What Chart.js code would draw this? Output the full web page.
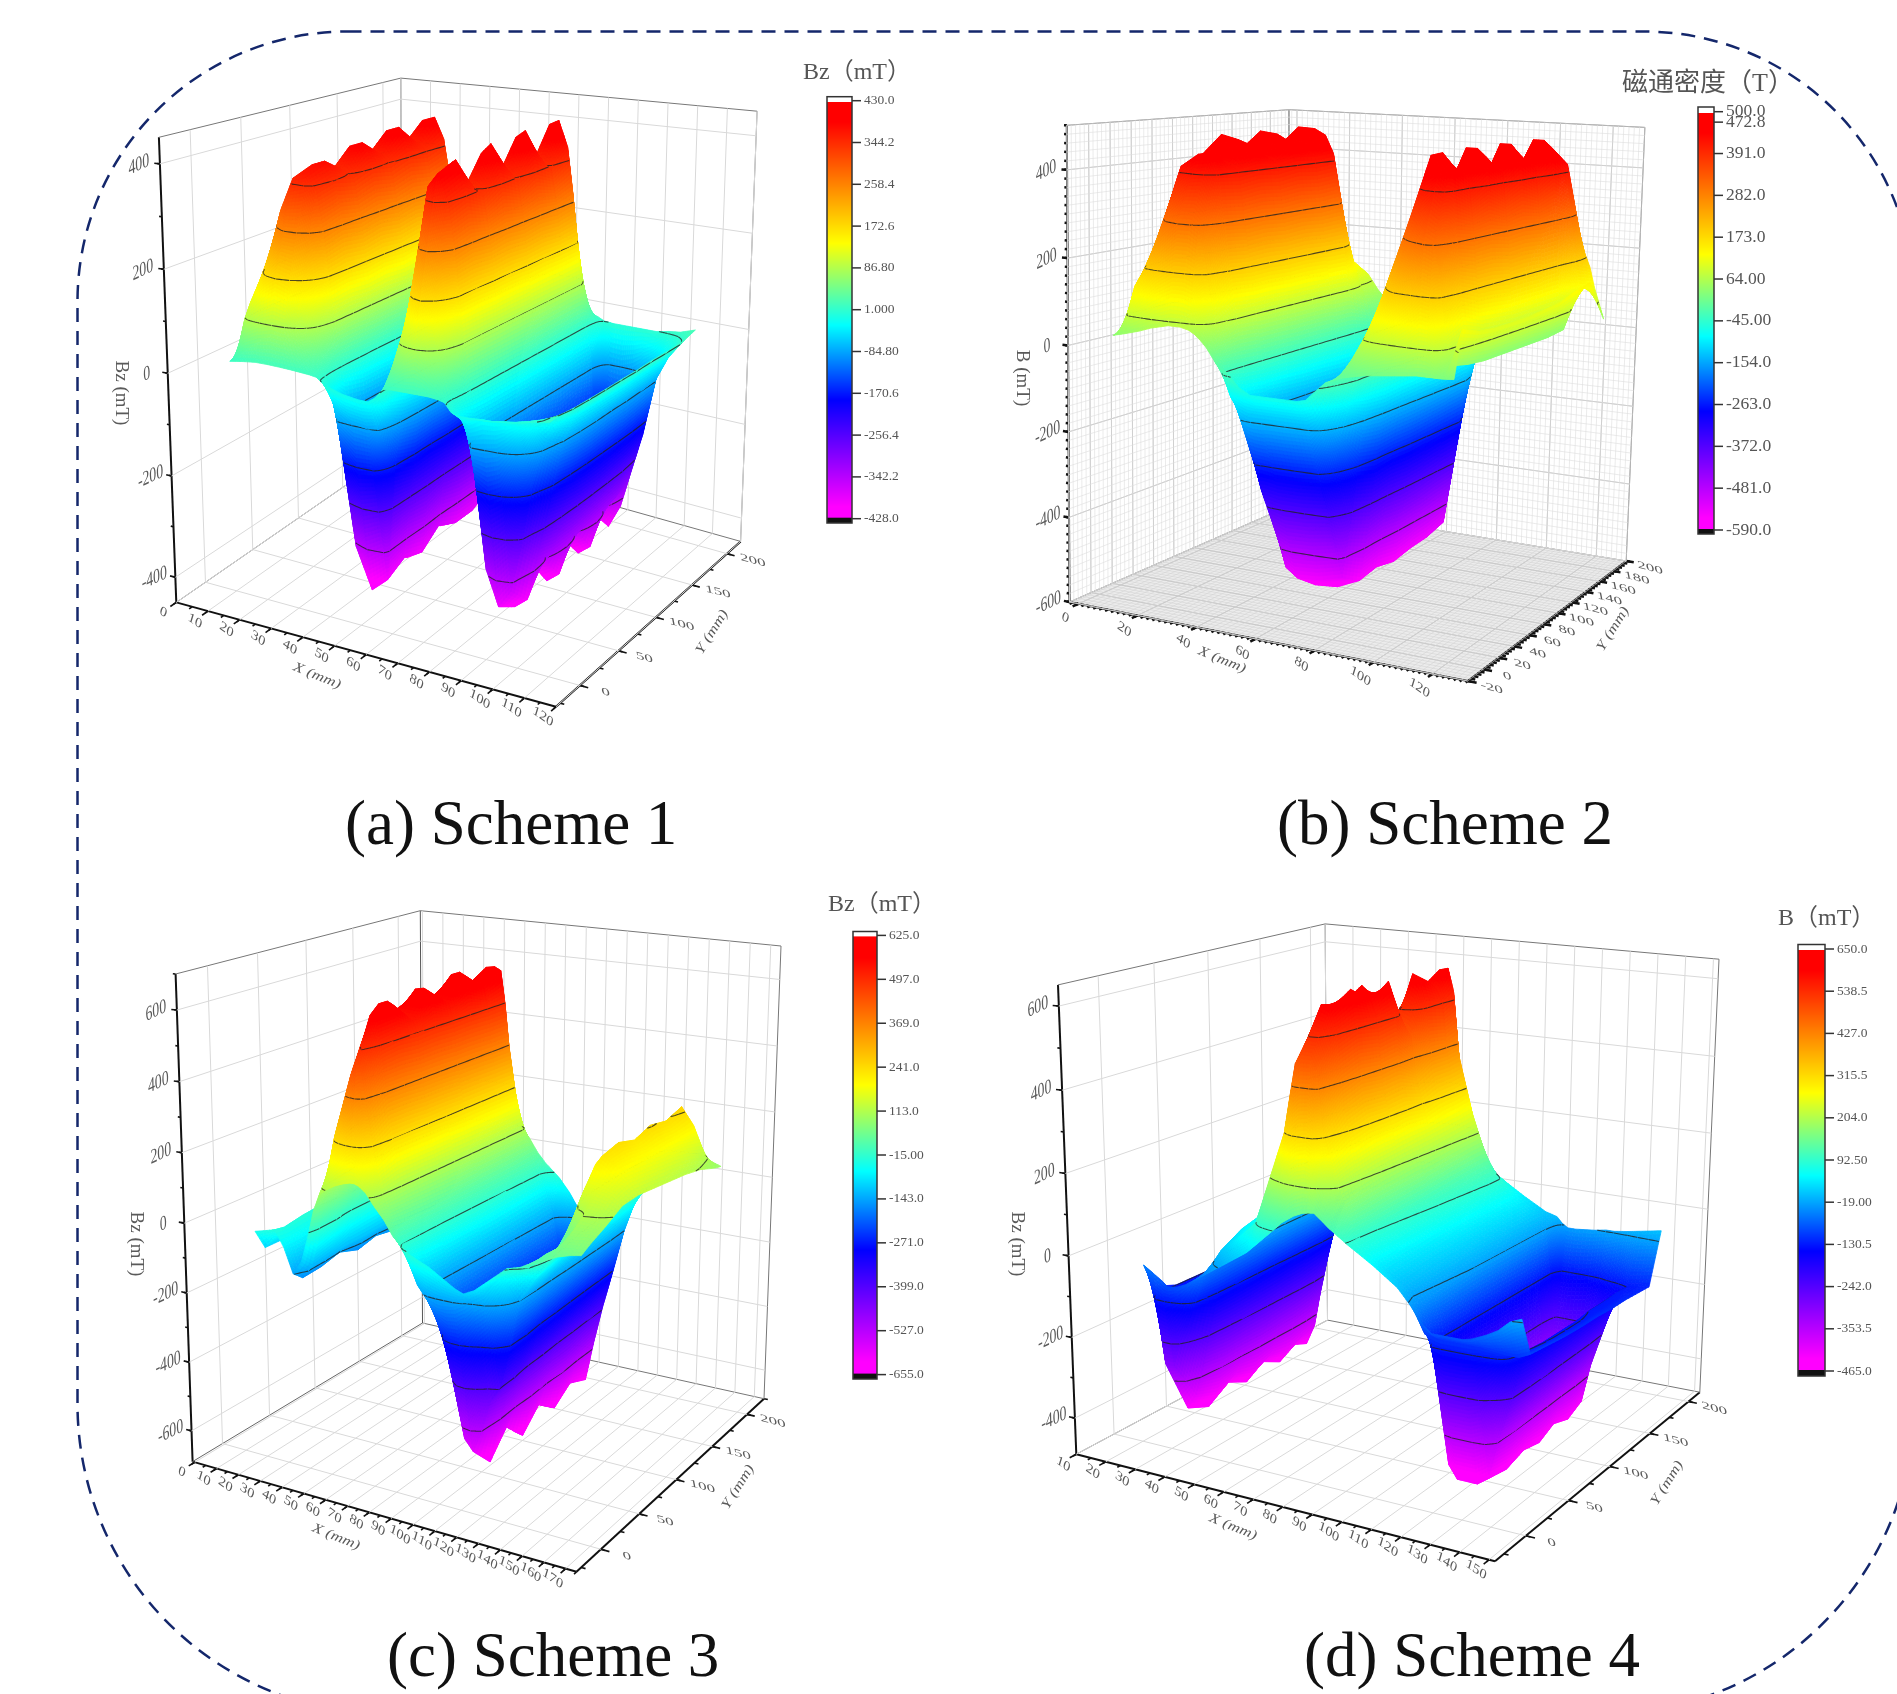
<!DOCTYPE html>
<html>
<head>
<meta charset="utf-8">
<style>
  html, body { margin: 0; padding: 0; background: #fff; }
  canvas { display: block; }
</style>
<script src="https://cdn.jsdelivr.net/npm/chart.js@4/dist/chart.umd.min.js"></script>
</head>
<body>
<canvas id="chart" width="1897" height="1694"></canvas>
<script>
// every row of a z table is one x column, values run along the y list
const ysA = [0, 10, 30, 50, 70, 90, 110, 130, 150, 170, 186];
const xsA = [10, 12, 14, 18, 22, 26, 29, 31, 33, 35, 37, 40, 45, 50, 53, 55, 58, 60, 62, 64, 67, 70, 72, 73.5, 75, 77, 79, 82, 86, 90, 93, 97, 101, 105, 110];
const zA = [
  [8, 12, 24, 26, 26, 26, 26, 26, 26, 26, 18],
  [10, 85, 110, 115, 115, 115, 115, 115, 115, 115, 20],
  [12, 120, 190, 195, 195, 195, 195, 195, 195, 195, 25],
  [15, 150, 290, 305, 290, 310, 295, 310, 295, 310, 30],
  [15, 170, 355, 370, 345, 385, 355, 395, 355, 395, 30],
  [14, 160, 365, 380, 350, 395, 360, 405, 360, 405, 30],
  [13, 120, 335, 345, 335, 350, 340, 355, 345, 360, 28],
  [12, 90, 258, 270, 262, 272, 264, 274, 266, 276, 24],
  [11, 60, 150, 155, 150, 155, 150, 155, 150, 155, 20],
  [10, 30, 50, 50, 48, 48, 46, 46, 45, 45, 15],
  [8, 0, -30, -40, -40, -42, -42, -44, -44, -46, 5],
  [-5, -60, -350, -360, -370, -370, -375, -385, -380, -395, -5],
  [-15, -80, -428, -385, -415, -375, -400, -395, -375, -400, -10],
  [-20, -85, -400, -380, -395, -365, -385, -385, -365, -395, -10],
  [-20, -80, -170, -185, -180, -185, -180, -185, -180, -185, -10],
  [-12, -50, -70, -75, -75, -75, -75, -75, -75, -75, -5],
  [8, 40, 60, 62, 62, 62, 62, 62, 62, 62, 8],
  [10, 80, 170, 175, 175, 175, 175, 175, 175, 175, 12],
  [10, 110, 290, 300, 295, 300, 295, 300, 295, 300, 15],
  [10, 140, 370, 395, 340, 400, 345, 410, 345, 415, 20],
  [10, 170, 395, 410, 345, 420, 355, 425, 350, 425, 22],
  [10, 130, 345, 360, 335, 365, 340, 368, 340, 372, 20],
  [10, 90, 258, 268, 262, 270, 264, 272, 266, 275, 18],
  [9, 60, 170, 172, 170, 172, 170, 172, 170, 172, 15],
  [8, 30, 86, 86, 86, 86, 86, 86, 86, 86, 12],
  [5, -8, 1, 1, 1, 1, 1, 1, 1, 1, 8],
  [-10, -30, -60, -62, -62, -62, -62, -62, -62, -62, 2],
  [-15, -40, -330, -400, -345, -400, -340, -398, -340, -395, 0],
  [-15, -25, -395, -420, -350, -420, -340, -415, -340, -410, 0],
  [-15, -25, -360, -400, -345, -400, -335, -395, -330, -360, 0],
  [-12, -22, -280, -320, -330, -330, -325, -320, -315, -290, 0],
  [-10, -18, -150, -210, -220, -225, -225, -220, -215, -200, 0],
  [-6, -12, -60, -90, -95, -95, -90, -90, -85, -80, 5],
  [0, -5, -25, -35, -35, -35, -35, -30, -30, -30, 8],
  [5, 7, 5, 5, 5, 6, 6, 8, 8, 10, 18]
];

const ysB = [0, 10, 30, 50, 70, 90, 110, 130, 150, 170, 190];
const xsB = [5, 9, 14, 18, 24, 28, 31, 33, 35, 37, 40, 42, 44, 46, 48, 52, 60, 68, 71, 74, 78, 84, 91, 98, 105, 109, 112, 114, 116, 118, 122];
const zB = [
  [18, 22, 26, 28, 28, 28, 28, 28, 28, 26, 20],
  [25, 130, 190, 235, 235, 235, 235, 235, 232, 150, 30],
  [35, 190, 320, 385, 385, 385, 385, 385, 380, 200, 50],
  [45, 240, 405, 425, 470, 430, 470, 430, 472, 230, 80],
  [55, 285, 435, 410, 460, 415, 465, 420, 470, 150, 90],
  [55, 285, 440, 405, 450, 410, 450, 415, 455, 150, 90],
  [50, 270, 400, 395, 405, 400, 410, 405, 410, 130, 80],
  [42, 210, 290, 285, 290, 285, 290, 285, 290, 100, 60],
  [30, 120, 180, 175, 178, 175, 178, 175, 175, 60, 40],
  [15, 50, 75, 72, 72, 70, 70, 68, 66, 30, 25],
  [-15, -55, -70, -75, -75, -78, -78, -80, -80, -82, -20],
  [-25, -100, -150, -160, -170, -175, -180, -185, -190, -190, -60],
  [-35, -120, -280, -290, -300, -300, -305, -305, -305, -300, -100],
  [-50, -125, -330, -480, -480, -480, -475, -475, -470, -460, -150],
  [-65, -130, -330, -530, -570, -560, -570, -555, -560, -540, -200],
  [-80, -130, -335, -550, -590, -570, -585, -565, -565, -545, -200],
  [-80, -130, -335, -545, -585, -565, -580, -565, -560, -540, -200],
  [-80, -130, -330, -530, -560, -550, -560, -550, -545, -530, -190],
  [-75, -120, -260, -400, -420, -410, -415, -410, -400, -395, -150],
  [-55, -90, -170, -230, -240, -235, -235, -230, -225, -220, -90],
  [-30, -40, -70, -60, -60, -55, -50, -50, -45, -40, -10],
  [-15, 20, 50, 60, 65, 65, 65, 68, 68, 70, 40],
  [-5, 100, 200, 200, 202, 205, 205, 208, 210, 210, 130],
  [0, 170, 330, 335, 335, 335, 338, 338, 340, 340, 230],
  [5, 240, 465, 385, 472, 385, 472, 395, 472, 440, 395],
  [8, 290, 472, 395, 472, 395, 472, 405, 472, 425, 300],
  [8, 280, 450, 410, 455, 410, 450, 410, 455, 410, 220],
  [8, 220, 300, 290, 295, 285, 290, 285, 290, 270, 180],
  [8, 100, 130, 110, 105, 100, 100, 100, 100, 170, 150],
  [8, 30, 20, 15, 15, 15, 15, 15, 20, 110, 100],
  [10, 110, 95, 90, 90, 90, 95, 100, 115, 125, 22]
];

const ysC = [0, 10, 30, 50, 70, 90, 110, 130, 150, 170, 178];
const xsC = [17, 26, 30, 34, 38, 41, 44, 47, 50, 54, 58, 61, 63, 65, 68, 72, 76, 80, 87, 92, 96, 100, 104, 108, 112, 117, 122, 126, 132, 138, 142, 146, 149, 155, 161, 166];
const zC = [
  [-40, -100, -100, -95, -90, -85, -80, -75, -70, -60, -30],
  [-25, -30, -20, -15, -12, -10, -10, -10, -10, -10, -5],
  [-70, -70, -65, -60, -55, -50, -50, -50, -50, -50, -20],
  [-140, -165, -160, -145, -165, -150, -160, -145, -150, -140, -50],
  [-100, -130, -120, -115, -115, -110, -110, -105, -105, -100, -30],
  [-30, -60, -40, 60, 90, 90, 90, 90, 90, 85, 10],
  [50, 60, 120, 240, 265, 265, 265, 260, 260, 255, 40],
  [100, 150, 230, 400, 425, 425, 425, 420, 420, 415, 70],
  [115, 250, 400, 555, 540, 560, 545, 565, 550, 550, 100],
  [130, 340, 480, 590, 535, 600, 550, 610, 565, 600, 120],
  [140, 430, 560, 600, 530, 605, 545, 620, 560, 605, 130],
  [145, 470, 590, 590, 530, 595, 545, 610, 560, 595, 130],
  [145, 420, 490, 500, 495, 500, 497, 500, 497, 500, 125],
  [140, 330, 380, 380, 375, 375, 372, 372, 370, 370, 115],
  [125, 210, 240, 240, 238, 238, 236, 236, 235, 235, 105],
  [90, 100, 105, 105, 105, 105, 105, 105, 105, 105, 80],
  [60, 40, 35, 32, 30, 30, 30, 30, 32, 35, 40],
  [20, -15, -18, -20, -20, -20, -18, -15, -12, -10, 10],
  [-20, -120, -150, -150, -148, -145, -145, -142, -140, -135, -30],
  [-35, -160, -300, -320, -320, -320, -315, -315, -310, -310, -70],
  [-45, -170, -440, -480, -470, -480, -470, -475, -465, -470, -110],
  [-60, -170, -560, -630, -575, -645, -590, -640, -595, -625, -150],
  [-75, -165, -590, -655, -590, -650, -595, -640, -600, -625, -160],
  [-90, -150, -527, -545, -530, -535, -520, -525, -510, -500, -140],
  [-100, -130, -440, -450, -440, -435, -420, -415, -400, -390, -120],
  [-85, -110, -390, -380, -350, -340, -320, -300, -285, -270, -100],
  [-60, -70, -265, -260, -230, -215, -195, -180, -165, -145, -70],
  [-40, -50, -143, -140, -125, -115, -105, -90, -80, -70, -40],
  [-10, -30, -85, -75, -55, -40, -25, -15, -5, 5, -10],
  [0, -15, -40, -20, 10, 35, 50, 70, 85, 95, 20],
  [12, 10, 0, 50, 110, 135, 150, 165, 180, 175, 45],
  [18, 30, 25, 120, 200, 210, 200, 215, 220, 210, 70],
  [28, 40, 45, 165, 225, 240, 225, 245, 235, 255, 90],
  [45, 70, 110, 160, 200, 200, 195, 200, 200, 205, 95],
  [55, 75, 105, 150, 170, 165, 160, 155, 145, 120, 95],
  [60, 75, 100, 130, 135, 130, 125, 120, 110, 90, 85]
];

const ysD = [0, 10, 30, 50, 70, 88, 105, 122, 138, 150, 163];
const xsD = [22, 25, 28, 30, 33, 36, 39, 45, 50, 57, 62, 67, 69, 71, 73, 76, 78, 80, 85, 91, 100, 108, 112, 114, 116, 119, 126, 130, 133, 138, 142, 146, 150];
const zD = [
  [-45, -110, -130, -130, -130, -130, -125, -120, -110, -90, -30],
  [-60, -300, -440, -465, -430, -455, -425, -450, -425, -440, -60],
  [-75, -300, -400, -420, -400, -415, -400, -410, -395, -385, -60],
  [-88, -240, -345, -353, -350, -350, -345, -340, -330, -300, -50],
  [-85, -190, -242, -245, -240, -238, -230, -225, -215, -190, -40],
  [-75, -125, -135, -130, -125, -115, -110, -105, -100, -90, -30],
  [-60, -60, -40, -35, -30, -25, -22, -20, -20, -20, -15],
  [-30, 10, 40, 55, 58, 58, 55, 50, 45, 40, 0],
  [-5, 40, 65, 72, 75, 75, 75, 72, 70, 65, 15],
  [30, 92, 100, 105, 105, 105, 105, 105, 105, 100, 40],
  [65, 204, 215, 215, 215, 215, 215, 215, 215, 205, 60],
  [100, 315, 350, 340, 340, 340, 340, 340, 340, 325, 80],
  [115, 400, 470, 450, 450, 450, 450, 445, 445, 430, 95],
  [125, 480, 560, 540, 545, 540, 530, 535, 535, 525, 110],
  [135, 500, 605, 590, 625, 570, 500, 620, 590, 612, 120],
  [145, 500, 595, 630, 590, 625, 490, 600, 570, 618, 125],
  [148, 470, 540, 560, 550, 560, 480, 555, 540, 560, 125],
  [150, 320, 370, 390, 385, 390, 370, 395, 395, 400, 125],
  [120, 204, 215, 225, 230, 235, 240, 245, 250, 255, 110],
  [90, 92, 95, 100, 105, 110, 115, 120, 125, 125, 80],
  [50, 30, 35, 40, 45, 48, 50, 52, 55, 55, 40],
  [10, -5, 0, 5, 8, 10, 10, 12, 12, 14, 8],
  [-22, -35, -30, -25, -20, -20, -20, -20, -20, -20, 0],
  [-40, -100, -130, -130, -130, -130, -130, -130, -130, -130, -15],
  [-60, -100, -430, -450, -430, -445, -425, -440, -420, -280, -25],
  [-80, -105, -460, -465, -435, -460, -430, -455, -425, -280, -25],
  [-80, -105, -460, -465, -440, -455, -430, -450, -425, -270, -20],
  [-80, -105, -440, -450, -435, -445, -425, -440, -420, -250, -15],
  [-75, -105, -350, -353, -350, -345, -340, -335, -325, -200, -15],
  [-60, -110, -242, -245, -240, -235, -230, -225, -215, -165, -10],
  [-45, -112, -130, -135, -135, -135, -130, -130, -128, -130, -5],
  [-21, -112, -118, -122, -125, -125, -125, -125, -125, -125, 0],
  [-10, -100, -105, -110, -112, -112, -115, -115, -118, -120, 5]
];

const barTicksA = ['430.0', '344.2', '258.4', '172.6', '86.80', '1.000', '-84.80', '-170.6', '-256.4', '-342.2', '-428.0'];
const barTicksB = ['500.0', '472.8', '391.0', '282.0', '173.0', '64.00', '-45.00', '-154.0', '-263.0', '-372.0', '-481.0', '-590.0'];
const barTicksC = ['625.0', '497.0', '369.0', '241.0', '113.0', '-15.00', '-143.0', '-271.0', '-399.0', '-527.0', '-655.0'];
const barTicksD = ['650.0', '538.5', '427.0', '315.5', '204.0', '92.50', '-19.00', '-130.5', '-242.0', '-353.5', '-465.0'];

const xTicksA = [0, 10, 20, 30, 40, 50, 60, 70, 80, 90, 100, 110, 120];
const yTicksA = [0, 50, 100, 150, 200];
const zTicksA = [-400, -200, 0, 200, 400];
const xTicksB = [0, 20, 40, 60, 80, 100, 120];
const yTicksB = [-20, 0, 20, 40, 60, 80, 100, 120, 140, 160, 180, 200];
const zTicksB = [-600, -400, -200, 0, 200, 400];
const xTicksC = [0, 10, 20, 30, 40, 50, 60, 70, 80, 90, 100, 110, 120, 130, 140, 150, 160, 170];
const yTicksC = [0, 50, 100, 150, 200];
const zTicksC = [-600, -400, -200, 0, 200, 400, 600];
const xTicksD = [10, 20, 30, 40, 50, 60, 70, 80, 90, 100, 110, 120, 130, 140, 150];
const yTicksD = [0, 50, 100, 150, 200];
const zTicksD = [-400, -200, 0, 200, 400, 600];

// page position of each 3D box, corners in order: front-left, front-right, back-left, back-right
const panels = [
  {
    xs: xsA, ys: ysA, zs: zA, xTicks: xTicksA, yTicks: yTicksA, zTicks: zTicksA, barTicks: barTicksA,
    xRange: [0, 120], yRange: [-30, 220], zRange: [-450, 450], low: -428, high: 430, levelFrom: 1,
    bottom: [[176.3, 602.4], [556, 706.7], [402.2, 446.3], [740.6, 541.4]],
    top: [[158.9, 137.3], [558.3, 177.7], [400.8, 78.1], [757.1, 111.2]],
    zTitle: 'Bz (mT)', xTitleAt: [317, 676], yTitleAt: [712, 632], zTitleAt: [121, 393],
    caption: '(a) Scheme 1', captionAt: [345, 844],
    barTitle: 'Bz（mT）', barTitleAt: [803, 79], barX: [827, 852], barY: [96.7, 523], tickY: [100.7, 518.7], barFont: 13.5, barTitleFont: 24
  },
  {
    xs: xsB, ys: ysB, zs: zB, xTicks: xTicksB, yTicks: yTicksB, zTicks: zTicksB, barTicks: barTicksB,
    xRange: [-3, 132], yRange: [-20, 200], zRange: [-600, 500], low: -590, high: 472.8, levelFrom: 2,
    bottom: [[1069.5, 602], [1467.7, 681], [1289.1, 506], [1626.2, 561]],
    top: [[1066.8, 125.3], [1465.4, 148.4], [1289.1, 109.7], [1644.9, 127.4]],
    dense: true,
    zTitle: 'B (mT)', xTitleAt: [1222, 660], yTitleAt: [1613, 629], zTitleAt: [1022, 378],
    caption: '(b) Scheme 2', captionAt: [1277, 844],
    barTitle: '磁通密度（T）', barTitleAt: [1622, 91], barX: [1698, 1714], barY: [107, 534], tickY: [111.7, 530], barFont: 17.5, barTitleFont: 26
  },
  {
    xs: xsC, ys: ysC, zs: zC, xTicks: xTicksC, yTicks: yTicksC, zTicks: zTicksC, barTicks: barTicksC,
    xRange: [-1, 175], yRange: [-31, 225], zRange: [-690, 700], low: -655, high: 625, levelFrom: 1,
    bottom: [[192.6, 1461.6], [576.5, 1571.8], [422.5, 1323], [764, 1398.7]],
    top: [[175.6, 974], [574.3, 1013], [420.3, 910.7], [781, 946]],
    zTitle: 'Bz (mT)', xTitleAt: [336, 1537], yTitleAt: [738, 1487], zTitleAt: [136, 1244],
    caption: '(c) Scheme 3', captionAt: [387, 1676],
    barTitle: 'Bz（mT）', barTitleAt: [828, 911], barX: [853, 877], barY: [931.5, 1379], tickY: [935.4, 1374.6], barFont: 13.5, barTitleFont: 24
  },
  {
    xs: xsD, ys: ysD, zs: zD, xTicks: xTicksD, yTicks: yTicksD, zTicks: zTicksD, barTicks: barTicksD,
    xRange: [10, 152], yRange: [-35, 215], zRange: [-490, 650], low: -465, high: 650, levelFrom: 1,
    bottom: [[1076.3, 1454.2], [1495, 1561.2], [1327.5, 1320.1], [1699.8, 1392.2]],
    top: [[1058, 984.9], [1497.3, 1024.9], [1325.2, 923.9], [1719, 959.2]],
    zTitle: 'Bz (mT)', xTitleAt: [1233, 1527], yTitleAt: [1667, 1483], zTitleAt: [1017, 1244],
    caption: '(d) Scheme 4', captionAt: [1304, 1676],
    barTitle: 'B（mT）', barTitleAt: [1778, 925], barX: [1798, 1825], barY: [944.5, 1376], tickY: [949, 1371], barFont: 13.5, barTitleFont: 24
  }
];

const rainbowStops = [
  [0, 255, 0, 255], [0.03, 255, 0, 255], [0.285, 0, 0, 255], [0.464, 0, 255, 255],
  [0.66, 255, 255, 0], [0.95, 255, 0, 0], [1, 255, 0, 0]
];

function rainbow(t) {
  t = Math.max(0, Math.min(1, t));
  for (let i = 1; i < rainbowStops.length; i++) {
    const a = rainbowStops[i - 1], b = rainbowStops[i];
    if (t <= b[0]) {
      const f = (t - a[0]) / (b[0] - a[0] || 1);
      return 'rgb(' + Math.round(a[1] + (b[1] - a[1]) * f) + ',' + Math.round(a[2] + (b[2] - a[2]) * f) + ',' + Math.round(a[3] + (b[3] - a[3]) * f) + ')';
    }
  }
  return 'rgb(255,0,0)';
}

// perspective spacing along y and z, x stays even
function warp(t, k) { return t / (t + (1 - t) * k); }

function project(p, x, y, z) {
  const a = (x - p.xRange[0]) / (p.xRange[1] - p.xRange[0]);
  const b = warp((y - p.yRange[0]) / (p.yRange[1] - p.yRange[0]), 0.92);
  const c = warp((z - p.zRange[0]) / (p.zRange[1] - p.zRange[0]), 1.03);
  const onPlane = q => [0, 1].map(n =>
    q[0][n] * (1 - a) * (1 - b) + q[1][n] * a * (1 - b) + q[2][n] * (1 - a) * b + q[3][n] * a * b);
  const lo = onPlane(p.bottom), hi = onPlane(p.top);
  return { x: lo[0] + (hi[0] - lo[0]) * c, y: lo[1] + (hi[1] - lo[1]) * c };
}

function gridDatasets(p) {
  const out = [];
  const [x0, x1] = p.xRange, [y0, y1] = p.yRange, [z0, z1] = p.zRange;
  const line = (from, to, color, width) => out.push({
    data: [project(p, from[0], from[1], from[2]), project(p, to[0], to[1], to[2])],
    showLine: true, pointRadius: 0, borderColor: color, borderWidth: width
  });
  const steps = (lo, hi, step) => {
    const list = [];
    for (let v = Math.ceil(lo / step) * step; v <= hi; v += step) list.push(v);
    return list;
  };
  if (p.dense) {
    steps(x0, x1, 2).forEach(x => { line([x, y1, z0], [x, y1, z1], '#dedede', 0.6); line([x, y0, z0], [x, y1, z0], '#d4d4d4', 0.6); });
    steps(y0, y1, 4).forEach(y => { line([x0, y, z0], [x0, y, z1], '#dedede', 0.6); line([x0, y, z0], [x1, y, z0], '#d4d4d4', 0.6); });
    steps(z0, z1, 20).forEach(z => { line([x0, y0, z], [x0, y1, z], '#dedede', 0.6); line([x0, y1, z], [x1, y1, z], '#dedede', 0.6); });
  }
  const major = p.dense ? '#bdbdbd' : '#d9d9d9';
  p.xTicks.forEach(x => { line([x, y1, z0], [x, y1, z1], major, 1); line([x, y0, z0], [x, y1, z0], major, 1); });
  p.yTicks.forEach(y => { line([x0, y, z0], [x0, y, z1], major, 1); line([x0, y, z0], [x1, y, z0], major, 1); });
  p.zTicks.forEach(z => { line([x0, y0, z], [x0, y1, z], major, 1); line([x0, y1, z], [x1, y1, z], major, 1); });
  // box outline and the three ticked axes
  line([x0, y0, z1], [x0, y1, z1], '#777', 1);
  line([x0, y1, z1], [x1, y1, z1], '#777', 1);
  line([x1, y1, z1], [x1, y1, z0], '#777', 1);
  line([x0, y1, z1], [x0, y1, z0], '#555', 1);
  line([x0, y0, z0], [x0, y1, z0], '#666', 1);
  line([x0, y1, z0], [x1, y1, z0], '#777', 1);
  line([x0, y0, z0], [x0, y0, z1], '#111', 2);
  line([x0, y0, z0], [x1, y0, z0], '#111', 2);
  line([x1, y0, z0], [x1, y1, z0], '#111', 2);
  const tickWidth = p.dense ? 2.5 : 1.6;
  const dx = (x1 - x0) * 0.014, dy = (y1 - y0) * 0.022;
  p.xTicks.forEach(x => line([x, y0, z0], [x, y0 - dy * 1.1, z0], '#111', tickWidth));
  p.yTicks.forEach(y => line([x1, y, z0], [x1 + dx * 1.6, y, z0], '#111', tickWidth));
  p.zTicks.forEach(z => line([x0, y0, z], [x0 - dx, y0, z], '#111', tickWidth));
  const xMinor = p.dense ? 2 : (p.xTicks[1] - p.xTicks[0]) / 2;
  const yMinor = p.dense ? 4 : (p.yTicks[1] - p.yTicks[0]) / 2;
  const zMinor = p.dense ? 20 : (p.zTicks[1] - p.zTicks[0]) / 2;
  steps(x0, x1, xMinor).forEach(x => line([x, y0, z0], [x, y0 - dy * 0.55, z0], '#111', tickWidth));
  steps(y0, y1, yMinor).forEach(y => line([x1, y, z0], [x1 + dx * 0.8, y, z0], '#111', tickWidth));
  steps(z0, z1, zMinor).forEach(z => line([x0, y0, z], [x0 - dx * 0.5, y0, z], '#111', tickWidth));
  return out;
}

function drawSurface(chart, p) {
  const ctx = chart.ctx;
  const sx = chart.scales.x, sy = chart.scales.y;
  const toPixel = (x, y, z) => {
    const q = project(p, x, y, z);
    return [sx.getPixelForValue(q.x), sy.getPixelForValue(q.y)];
  };
  const levels = p.barTicks.slice(p.levelFrom, -1).map(Number);
  const span = p.high - p.low;
  ctx.save();
  ctx.lineWidth = 0.8;
  ctx.lineJoin = 'round';
  for (let i = 0; i < p.xs.length - 1; i++) {
    for (let j = p.ys.length - 2; j >= 0; j--) {
      const xa = p.xs[i], xb = p.xs[i + 1], ya = p.ys[j], yb = p.ys[j + 1];
      const z00 = p.zs[i][j], z10 = p.zs[i + 1][j], z01 = p.zs[i][j + 1], z11 = p.zs[i + 1][j + 1];
      const a00 = toPixel(xa, ya, z00), a10 = toPixel(xb, ya, z10), a01 = toPixel(xa, yb, z01), a11 = toPixel(xb, yb, z11);
      const dist = (m, n) => Math.hypot(m[0] - n[0], m[1] - n[1]);
      const nu = Math.max(1, Math.min(40, Math.ceil(Math.max(dist(a00, a10), dist(a01, a11)) / 4)));
      const nv = Math.max(1, Math.min(40, Math.ceil(Math.max(dist(a00, a01), dist(a10, a11)) / 4)));
      const pts = [];
      for (let u = 0; u <= nu; u++) {
        const row = [];
        for (let v = 0; v <= nv; v++) {
          const fu = u / nu, fv = v / nv;
          const z = (z00 * (1 - fu) + z10 * fu) * (1 - fv) + (z01 * (1 - fu) + z11 * fu) * fv;
          const q = toPixel(xa + (xb - xa) * fu, ya + (yb - ya) * fv, z);
          row.push([q[0], q[1], z]);
        }
        pts.push(row);
      }
      const segments = [];
      for (let u = 0; u < nu; u++) {
        for (let v = nv - 1; v >= 0; v--) {
          const c = [pts[u][v], pts[u + 1][v], pts[u + 1][v + 1], pts[u][v + 1]];
          const mean = (c[0][2] + c[1][2] + c[2][2] + c[3][2]) / 4;
          const color = rainbow((mean - p.low) / span);
          ctx.fillStyle = color;
          ctx.strokeStyle = color;
          ctx.beginPath();
          ctx.moveTo(c[0][0], c[0][1]);
          ctx.lineTo(c[1][0], c[1][1]);
          ctx.lineTo(c[2][0], c[2][1]);
          ctx.lineTo(c[3][0], c[3][1]);
          ctx.closePath();
          ctx.fill();
          ctx.stroke();
          levels.forEach(level => {
            const cross = [];
            for (let k = 0; k < 4; k++) {
              const m = c[k], n = c[(k + 1) % 4];
              if ((m[2] < level) !== (n[2] < level)) {
                const f = (level - m[2]) / (n[2] - m[2]);
                cross.push([m[0] + (n[0] - m[0]) * f, m[1] + (n[1] - m[1]) * f]);
              }
            }
            if (cross.length >= 2) segments.push([cross[0], cross[1]]);
            if (cross.length === 4) segments.push([cross[2], cross[3]]);
          });
        }
      }
      if (segments.length) {
        ctx.strokeStyle = 'rgba(35,35,35,0.8)';
        ctx.lineWidth = 1.1;
        ctx.beginPath();
        segments.forEach(s => { ctx.moveTo(s[0][0], s[0][1]); ctx.lineTo(s[1][0], s[1][1]); });
        ctx.stroke();
        ctx.lineWidth = 0.8;
      }
    }
  }
  ctx.restore();
}

// text laid on the 3D planes: m holds the baseline and the up vector of the glyphs
function label(ctx, text, x, y, m, font, color) {
  ctx.save();
  ctx.transform(m[0], m[1], m[2], m[3], x, y);
  ctx.font = font;
  ctx.fillStyle = color;
  ctx.textAlign = 'center';
  ctx.textBaseline = 'middle';
  ctx.fillText(text, 0, 0);
  ctx.restore();
}

function rotated(angle, squash) {
  const r = angle * Math.PI / 180;
  return [Math.cos(r), Math.sin(r), -Math.sin(r) * squash, Math.cos(r) * squash];
}

function drawAxisText(chart, p) {
  const ctx = chart.ctx;
  const sx = chart.scales.x, sy = chart.scales.y;
  const at = (x, y, z) => {
    const q = project(p, x, y, z);
    return [sx.getPixelForValue(q.x), sy.getPixelForValue(q.y)];
  };
  const [x0, x1] = p.xRange, [y0] = p.yRange, [z0] = p.zRange;
  const tickFont = '17px "Liberation Serif"';
  const grey = '#5a5a5a';
  p.xTicks.forEach(x => {
    const q = at(x, y0, z0);
    label(ctx, String(x), q[0] - 13, q[1] + (p.dense ? 14 : 10), [0.78, 0.55, -0.22, 0.72], tickFont, grey);
  });
  p.yTicks.forEach(y => {
    const q = at(x1, y, z0);
    label(ctx, String(y), q[0] + (p.dense ? 24 : 26), q[1] + 7, [1.0, 0.26, 0.12, 0.62], tickFont, grey);
  });
  p.zTicks.forEach(z => {
    const q = at(x0, y0, z);
    label(ctx, String(z), q[0] - 21, q[1] + 1, [0.72, -0.34, 0.03, 1.08], '19px "Liberation Serif"', grey);
  });
  label(ctx, 'X (mm)', p.xTitleAt[0], p.xTitleAt[1], rotated(22, 0.8), 'italic 17px "Liberation Serif"', grey);
  label(ctx, 'Y (mm)', p.yTitleAt[0], p.yTitleAt[1], rotated(-58, 0.8), 'italic 17px "Liberation Serif"', grey);
  label(ctx, p.zTitle, p.zTitleAt[0], p.zTitleAt[1], rotated(90, 1), '19px "Liberation Serif"', grey);
}

function drawBar(chart, p) {
  const ctx = chart.ctx;
  const sx = chart.scales.x, sy = chart.scales.y;
  const left = sx.getPixelForValue(p.barX[0]), right = sx.getPixelForValue(p.barX[1]);
  const top = sy.getPixelForValue(p.barY[0]), bottom = sy.getPixelForValue(p.barY[1]);
  const tickTop = sy.getPixelForValue(p.tickY[0]), tickBottom = sy.getPixelForValue(p.tickY[1]);
  for (let y = Math.round(tickTop) + 1; y < tickBottom - 1; y++) {
    ctx.fillStyle = rainbow((tickBottom - y) / (tickBottom - tickTop));
    ctx.fillRect(left, y, right - left, 1.2);
  }
  ctx.fillStyle = '#fff';
  ctx.fillRect(left, top, right - left, tickTop + 1 - top);
  ctx.fillStyle = '#111';
  ctx.fillRect(left, tickBottom - 1, right - left, bottom - tickBottom + 1);
  ctx.strokeStyle = '#333';
  ctx.lineWidth = 1.5;
  ctx.strokeRect(left, top, right - left, bottom - top);
  const maxValue = Number(p.barTicks[0]), minValue = Number(p.barTicks[p.barTicks.length - 1]);
  p.barTicks.forEach(text => {
    const y = tickTop + (maxValue - Number(text)) / (maxValue - minValue) * (tickBottom - tickTop);
    ctx.beginPath();
    ctx.moveTo(right, y);
    ctx.lineTo(right + 9, y);
    ctx.stroke();
    ctx.font = p.barFont + 'px "Liberation Serif"';
    ctx.fillStyle = '#555';
    ctx.textAlign = 'left';
    ctx.textBaseline = 'middle';
    ctx.fillText(text, right + 12, y);
  });
  ctx.font = p.barTitleFont + 'px "Liberation Serif", "Noto Sans CJK SC"';
  ctx.fillStyle = '#555';
  ctx.textBaseline = 'alphabetic';
  ctx.fillText(p.barTitle, sx.getPixelForValue(p.barTitleAt[0]), sy.getPixelForValue(p.barTitleAt[1]));
}

const surfacePlugin = {
  id: 'surface3d',
  beforeDatasetsDraw(chart) {
    // grey floor only in scheme 2
    const ctx = chart.ctx, p = panels[1];
    const sx = chart.scales.x, sy = chart.scales.y;
    ctx.fillStyle = '#ececec';
    ctx.beginPath();
    [0, 1, 3, 2].forEach((n, k) => {
      const px = sx.getPixelForValue(p.bottom[n][0]), py = sy.getPixelForValue(p.bottom[n][1]);
      if (k === 0) ctx.moveTo(px, py); else ctx.lineTo(px, py);
    });
    ctx.closePath();
    ctx.fill();
  },
  afterDatasetsDraw(chart) {
    panels.forEach(p => {
      drawSurface(chart, p);
      drawAxisText(chart, p);
      drawBar(chart, p);
      const ctx = chart.ctx;
      ctx.font = '63px "Liberation Serif"';
      ctx.fillStyle = '#111';
      ctx.textAlign = 'left';
      ctx.textBaseline = 'alphabetic';
      ctx.fillText(p.caption, chart.scales.x.getPixelForValue(p.captionAt[0]), chart.scales.y.getPixelForValue(p.captionAt[1]));
    });
    // dashed outline round the four panels, it runs off the page on the right and at the bottom
    const ctx = chart.ctx;
    ctx.save();
    ctx.strokeStyle = '#14276b';
    ctx.lineWidth = 2.5;
    ctx.setLineDash([14, 9]);
    ctx.beginPath();
    ctx.roundRect(77.5, 31.5, 1836.5, 1682.5, [270, 270, 310, 310]);
    ctx.stroke();
    ctx.restore();
  }
};

new Chart(document.getElementById('chart'), {
  type: 'scatter',
  data: { datasets: panels.flatMap(gridDatasets) },
  options: {
    responsive: false,
    animation: false,
    layout: { padding: 0 },
    plugins: { legend: { display: false }, tooltip: { enabled: false } },
    scales: {
      x: { type: 'linear', display: false, min: 0, max: 1897 },
      y: { type: 'linear', display: false, min: 0, max: 1694, reverse: true }
    }
  },
  plugins: [surfacePlugin]
});
</script>
</body>
</html>
